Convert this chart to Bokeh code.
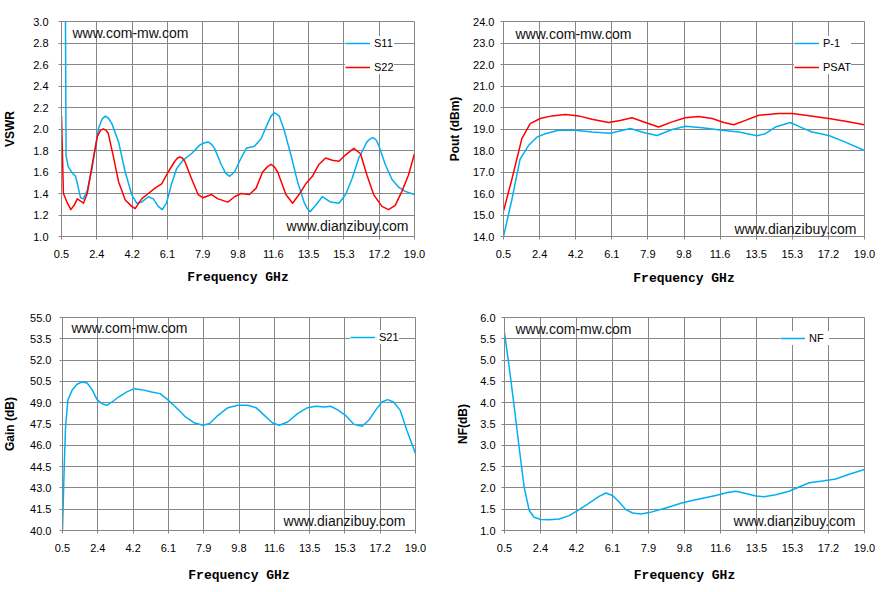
from bokeh.plotting import figure
from bokeh.models import (FixedTicker, PrintfTickFormatter, Range1d, Label,
                          Legend, LegendItem)
from bokeh.layouts import column, row
from bokeh.embed import file_html
from bokeh.resources import INLINE

# ---------------- data ----------------
x_tick_labels = ["0.5", "2.4", "4.2", "6.1", "7.9", "9.8", "11.6", "13.5", "15.3", "17.2", "19.0"]

s11_f = [0.5, 0.70, 0.74, 0.85, 1.07, 1.24, 1.5, 1.64, 1.85, 2.1, 2.3, 2.45, 2.62, 2.79, 2.96,
         3.14, 3.49, 3.84, 4.18, 4.44, 4.70, 5.05, 5.31, 5.57, 5.78, 6.0, 6.27, 6.53, 6.87, 7.31,
         7.74, 7.96, 8.18, 8.35, 8.52, 8.87, 9.1, 9.31, 9.57, 9.83, 10.18, 10.61, 10.96, 11.30,
         11.48, 11.65, 11.78, 11.91, 12.17, 12.52, 12.87, 13.21, 13.38, 13.53, 13.82, 14.17, 14.6,
         15.04, 15.39, 15.73, 16.08, 16.51, 16.68, 16.83, 16.98, 17.12, 17.47, 17.82, 18.16,
         18.51, 19.0]
s11_v = [9.0, 3.3, 1.75, 1.65, 1.59, 1.56, 1.36, 1.35, 1.43, 1.63, 1.86, 2.01, 2.09, 2.12, 2.10,
         2.05, 1.88, 1.60, 1.39, 1.31, 1.32, 1.37, 1.35, 1.28, 1.25, 1.31, 1.49, 1.63, 1.71, 1.77,
         1.85, 1.87, 1.88, 1.86, 1.82, 1.67, 1.59, 1.56, 1.60, 1.70, 1.82, 1.84, 1.91, 2.05,
         2.12, 2.15, 2.14, 2.12, 1.99, 1.76, 1.51, 1.32, 1.26, 1.23, 1.29, 1.37, 1.32,
         1.31, 1.39, 1.54, 1.73, 1.88, 1.91, 1.92, 1.90, 1.85, 1.67, 1.53, 1.46,
         1.42, 1.39]

s22_f = [0.5, 0.6, 0.81, 0.99, 1.16, 1.33, 1.5, 1.65, 1.85, 2.12, 2.38, 2.55, 2.69, 2.82, 2.95,
         3.2, 3.49, 3.84, 4.18, 4.36, 4.70, 5.05, 5.40, 5.75, 6.09, 6.44, 6.58, 6.70, 6.83, 6.96,
         7.31, 7.66, 7.92, 8.36, 8.70, 9.22, 9.57, 9.91, 10.35, 10.70, 11.04, 11.30, 11.48, 11.65,
         11.83, 12.26, 12.61, 12.95, 13.3, 13.65, 13.99, 14.34, 14.69, 15.04, 15.39, 15.82,
         16.17, 16.51, 16.86, 17.29, 17.64, 17.99, 18.34, 18.68, 19.0]
s22_v = [2.12, 1.40, 1.31, 1.25, 1.29, 1.35, 1.33, 1.31, 1.40, 1.68, 1.93, 1.99, 2.0, 1.99, 1.96,
         1.76, 1.51, 1.34, 1.28, 1.26, 1.35, 1.40, 1.45, 1.49, 1.60, 1.70, 1.73, 1.74, 1.73, 1.70,
         1.54, 1.39, 1.36, 1.39, 1.35, 1.32, 1.37, 1.40, 1.39, 1.45, 1.60, 1.65, 1.67, 1.65,
         1.60, 1.39, 1.31, 1.39, 1.49, 1.56, 1.67, 1.73, 1.71, 1.70, 1.76, 1.82,
         1.77, 1.57, 1.39, 1.28, 1.25, 1.29, 1.42, 1.57, 1.77]

p1_f = [0.5, 0.93, 1.35, 1.78, 2.21, 2.64, 3.32, 4.18, 5.03, 5.97, 7.0, 7.77, 8.37, 9.14, 9.82,
        10.68, 11.70, 12.56, 13.49, 13.92, 14.43, 15.2, 15.72, 16.31, 17.17, 18.02, 19.0]
p1_v = [14.0, 15.72, 17.60, 18.23, 18.62, 18.78, 18.94, 18.94, 18.86, 18.80, 19.02, 18.81, 18.70,
        18.98, 19.13, 19.06, 18.94, 18.86, 18.69, 18.78, 19.09, 19.30, 19.09, 18.86, 18.70, 18.39, 18.0]

psat_f = [0.5, 0.93, 1.44, 1.87, 2.38, 2.98, 3.67, 4.35, 5.03, 5.89, 6.48, 7.08, 7.77, 8.45, 9.14,
          9.82, 10.5, 11.19, 11.79, 12.30, 12.90, 13.58, 14.61, 15.3, 15.98, 17.17, 18.02, 19.0]
psat_v = [15.18, 16.66, 18.55, 19.25, 19.49, 19.61, 19.67, 19.61, 19.45, 19.30, 19.40, 19.52, 19.30,
          19.09, 19.33, 19.52, 19.58, 19.49, 19.30, 19.20, 19.40, 19.64, 19.72, 19.72, 19.64, 19.49,
          19.36, 19.20]

s21_f = [0.5, 0.59, 0.66, 0.78, 1.0, 1.26, 1.52, 1.79, 2.05, 2.31, 2.57, 2.83, 3.09, 3.44, 3.87,
         4.25, 4.65, 5.17, 5.61, 5.95, 6.39, 6.91, 7.43, 7.87, 8.21, 8.65, 9.17, 9.69, 10.21, 10.64,
         11.08, 11.51, 11.86, 12.30, 12.82, 13.34, 13.77, 14.21, 14.55, 14.90, 15.33, 15.77, 16.2,
         16.55, 16.90, 17.24, 17.54, 17.85, 18.2, 18.55, 19.0]
s21_v = [40.0, 44.47, 47.29, 49.17, 49.87, 50.30, 50.46, 50.39, 49.92, 49.22, 48.93, 48.82, 49.05,
         49.40, 49.76, 49.99, 49.92, 49.76, 49.64, 49.29, 48.75, 48.04, 47.57, 47.41, 47.53, 48.11,
         48.65, 48.82, 48.82, 48.65, 48.11, 47.57, 47.41, 47.64, 48.23, 48.65, 48.75, 48.70, 48.75,
         48.51, 48.11, 47.48, 47.34, 47.76, 48.46, 49.05, 49.22, 49.05, 48.46, 47.05, 45.41]

nf_f = [0.5, 0.74, 1.0, 1.25, 1.51, 1.77, 2.02, 2.37, 2.80, 3.31, 3.82, 4.34, 4.85, 5.36, 5.71,
        6.05, 6.39, 6.74, 7.08, 7.51, 7.94, 8.79, 9.65, 10.5, 11.36, 11.96, 12.39, 12.90, 13.42,
        13.84, 14.44, 15.13, 15.64, 16.16, 16.84, 17.53, 18.21, 19.0]
nf_v = [5.64, 4.84, 3.90, 2.96, 2.02, 1.47, 1.31, 1.26, 1.25, 1.27, 1.35, 1.49, 1.64, 1.80, 1.88,
        1.82, 1.67, 1.49, 1.41, 1.39, 1.42, 1.53, 1.65, 1.74, 1.82, 1.89, 1.92, 1.87, 1.81,
        1.79, 1.84, 1.92, 2.02, 2.12, 2.16, 2.21, 2.32, 2.43]

BLUE = "#00B0F0"
RED = "#FF0000"
GRID = "#878787"
x_ticks = [round(0.5 + 1.85 * i, 2) for i in range(len(x_tick_labels))]


def make(width, height, borders, yr, ystep, ylabel, ytick_standoff, ylabel_standoff,
         xlabel_standoff, series, legend_loc, wm1, wm2):
    left, right, top, bottom = borders
    p = figure(width=width, height=height, output_backend="svg", toolbar_location=None,
               x_range=Range1d(0.5, 19.0), y_range=Range1d(*yr),
               min_border_left=left, min_border_right=right,
               min_border_top=top, min_border_bottom=bottom)
    p.background_fill_color = "white"
    p.border_fill_color = "white"
    p.outline_line_color = GRID
    p.outline_line_width = 1

    n = int(round((yr[1] - yr[0]) / ystep))
    yt = [round(yr[0] + ystep * i, 3) for i in range(n + 1)]
    p.xaxis.ticker = FixedTicker(ticks=x_ticks)
    p.xaxis.major_label_overrides = {t: l for t, l in zip(x_ticks, x_tick_labels)}
    p.yaxis.ticker = FixedTicker(ticks=yt)
    p.yaxis.formatter = PrintfTickFormatter(format="%.1f")

    for ax in (p.xaxis[0], p.yaxis[0]):
        ax.axis_line_color = GRID
        ax.major_tick_line_color = GRID
        ax.major_tick_out = 3
        ax.major_tick_in = 0
        ax.minor_tick_line_color = None
        ax.major_label_text_font = "Liberation Sans"
        ax.major_label_text_font_size = "11px"
        ax.major_label_text_color = "#000000"
    p.xaxis.major_label_standoff = 10
    p.yaxis.major_label_standoff = ytick_standoff

    p.xaxis.axis_label = "Frequency GHz"
    p.xaxis.axis_label_text_font = "Liberation Mono"
    p.xaxis.axis_label_text_font_style = "bold"
    p.xaxis.axis_label_text_font_size = "13px"
    p.xaxis.axis_label_text_color = "#000000"
    p.xaxis.axis_label_standoff = xlabel_standoff

    p.yaxis.axis_label = ylabel
    p.yaxis.axis_label_text_font = "Liberation Sans"
    p.yaxis.axis_label_text_font_style = "bold"
    p.yaxis.axis_label_text_font_size = "12px"
    p.yaxis.axis_label_text_color = "#000000"
    p.yaxis.axis_label_standoff = ylabel_standoff

    p.xgrid.ticker = FixedTicker(ticks=x_ticks)
    p.ygrid.ticker = FixedTicker(ticks=yt)
    p.xgrid.grid_line_color = GRID
    p.ygrid.grid_line_color = GRID
    p.xgrid.grid_line_width = 1
    p.ygrid.grid_line_width = 1

    items = []
    for name, fx, fy, col in series:
        r = p.line(fx, fy, line_color=col, line_width=1.5, line_join="round")
        items.append(LegendItem(label=name, renderers=[r]))

    leg = Legend(items=items, location=legend_loc,
                 background_fill_color="white", background_fill_alpha=1.0,
                 border_line_color=None, padding=5, spacing=10,
                 glyph_width=25, glyph_height=14, label_height=14,
                 label_standoff=4, label_text_font="Liberation Sans",
                 label_text_font_size="11px", label_text_color="#000000",
                 margin=0)
    p.add_layout(leg, "center")

    p.add_layout(Label(x=wm1[0], y=wm1[1], x_units="screen", y_units="screen",
                       text="www.com-mw.com", text_font="Liberation Sans",
                       text_font_size="14px", text_color="#111111",
                       text_baseline="middle", text_align="left"))
    p.add_layout(Label(x=wm2[0], y=wm2[1], x_units="screen", y_units="screen",
                       text="www.dianzibuy.com", text_font="Liberation Sans",
                       text_font_size="14px", text_color="#111111",
                       text_baseline="middle", text_align="right"))
    return p


f1 = make(445, 296, (59, 31, 21, 60), (1.0, 3.0), 0.2, "VSWR", 10, 13, 9,
          [("S11", s11_f, s11_v, BLUE), ("S22", s22_f, s22_v, RED)],
          (284, 162), (11, 204), (347, 11))
f2 = make(444, 296, (58, 25, 21, 60), (14.0, 24.0), 1.0, "Pout (dBm)", 6, 8, 10,
          [("P-1", p1_f, p1_v, BLUE), ("PSAT", psat_f, psat_v, RED)],
          (291, 162), (12, 203), (353, 8))
f3 = make(445, 295, (60, 30, 21, 61), (40.0, 55.0), 1.5, "Gain (dB)", 8, 10, 13,
          [("S21", s21_f, s21_v, BLUE)],
          (288, 186), (9, 203), (343, 10))
f4 = make(444, 295, (59, 25, 21, 61), (1.0, 6.0), 0.5, "NF(dB)", 6, 7, 13,
          [("NF", nf_f, nf_v, BLUE)],
          (276, 185), (11, 202), (351, 10))

layout = column(row(f1, f2), row(f3, f4))

open("out.html", "w").write(file_html(layout, INLINE))
